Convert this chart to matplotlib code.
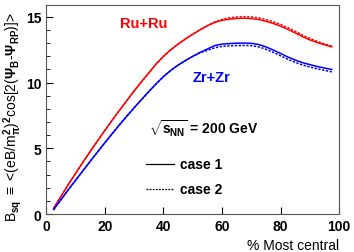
import numpy as np
import matplotlib
matplotlib.use("Agg")
import matplotlib.pyplot as plt
from matplotlib.ticker import MultipleLocator

plt.rcParams['font.family'] = ['Liberation Sans', 'DejaVu Sans']
plt.rcParams['font.weight'] = 'bold'
plt.rcParams['mathtext.fontset'] = 'custom'
plt.rcParams['mathtext.rm'] = 'Liberation Sans:bold'
plt.rcParams['mathtext.it'] = 'Liberation Sans:bold'
plt.rcParams['mathtext.bf'] = 'Liberation Sans:bold'

cent = [2.5, 5, 7.5, 10, 12.5, 15, 17.5, 20, 22.5, 25, 27.5, 30, 32.5, 35, 37.5, 40,
        42.5, 45, 47.5, 50, 52.5, 55, 57.5, 60, 62.5, 65, 67.5, 70, 72.5, 75, 77.5, 80,
        82.5, 85, 87.5, 90, 92.5, 95, 97.5]
ru_case1 = [0.45, 1.35, 2.25, 3.1, 3.95, 4.77, 5.58, 6.37, 7.15, 7.9, 8.64, 9.37, 10.07, 10.74, 11.42, 12.0,
            12.5, 12.93, 13.32, 13.68, 14.02, 14.33, 14.58, 14.74, 14.83, 14.88, 14.9, 14.88, 14.8, 14.67, 14.5, 14.3,
            14.05, 13.78, 13.5, 13.25, 13.05, 12.88, 12.72]
ru_case2 = [0.45, 1.35, 2.25, 3.1, 3.95, 4.77, 5.58, 6.37, 7.15, 7.9, 8.64, 9.37, 10.07, 10.74, 11.42, 12.0,
            12.5, 12.93, 13.32, 13.68, 14.02, 14.33, 14.62, 14.8, 14.93, 14.99, 15.02, 15.0, 14.93, 14.8, 14.63, 14.43,
            14.18, 13.91, 13.62, 13.36, 13.14, 12.95, 12.77]
zr_case1 = [0.35, 1.1, 1.85, 2.58, 3.3, 4.02, 4.73, 5.43, 6.12, 6.8, 7.45, 8.09, 8.71, 9.32, 9.91, 10.46,
            10.93, 11.33, 11.68, 12.0, 12.3, 12.56, 12.82, 12.93, 12.97, 13.0, 13.01, 12.99, 12.9, 12.72, 12.48, 12.22,
            11.95, 11.72, 11.52, 11.37, 11.23, 11.11, 11.0]
zr_case2 = [0.35, 1.1, 1.85, 2.58, 3.3, 4.02, 4.73, 5.43, 6.12, 6.8, 7.45, 8.09, 8.71, 9.32, 9.91, 10.46,
            10.93, 11.33, 11.68, 12.0, 12.27, 12.45, 12.65, 12.76, 12.8, 12.82, 12.83, 12.81, 12.72, 12.54, 12.3, 12.04,
            11.77, 11.54, 11.34, 11.19, 11.05, 10.93, 10.82]

fig = plt.figure(figsize=(3.54, 2.53), dpi=100)
ax = fig.add_axes([0.131, 0.150, 0.827, 0.826])

ax.plot(cent, ru_case1, color='red', lw=1.1)
ax.plot(cent, ru_case2, color='red', lw=1.1, ls=(0, (1.5, 1)))
ax.plot(cent, zr_case1, color='blue', lw=1.1)
ax.plot(cent, zr_case2, color='blue', lw=1.1, ls=(0, (1.5, 1)))

ax.set_xlim(0, 100)
ax.set_ylim(0, 15.9)
ax.xaxis.set_major_locator(MultipleLocator(20))
ax.yaxis.set_major_locator(MultipleLocator(5))
ax.yaxis.set_minor_locator(MultipleLocator(1))
ax.tick_params(which='both', direction='in', top=False, right=False, labelsize=10)
ax.tick_params(which='major', length=5)
ax.tick_params(which='minor', length=3)
for s in ax.spines.values():
    s.set_color('#555555')

ax.text(25, 14.5, 'Ru+Ru', color='red', fontsize=10.5, fontweight='bold', va='center')
ax.text(50, 10.4, 'Zr+Zr', color='blue', fontsize=10.5, fontweight='bold', va='center')
ax.text(35, 6.6, r'$\sqrt{s_{NN}}$ = 200 GeV', fontsize=10, va='center')

# legend drawn by hand
ax.plot([34, 43.5], [3.8, 3.8], color='black', lw=0.9)
ax.plot([34, 43.5], [1.9, 1.9], color='black', lw=0.9, ls=(0, (1.5, 1)))
ax.text(45.5, 3.8, 'case 1', fontsize=10, va='center')
ax.text(45.5, 1.9, 'case 2', fontsize=10, va='center')

ax.set_xlabel('% Most central', fontsize=10, ha='right', x=1.0)
ax.set_ylabel(r'B$_{sq}$ $\equiv$ <(eB/m$_{\pi}^{2}$)$^{2}$cos[2($\Psi_{B}$-$\Psi_{RP}$)]>',
              fontsize=10, ha='center')
ax.yaxis.set_label_coords(-0.078, 0.47)

fig.savefig('out.png', dpi=100)
